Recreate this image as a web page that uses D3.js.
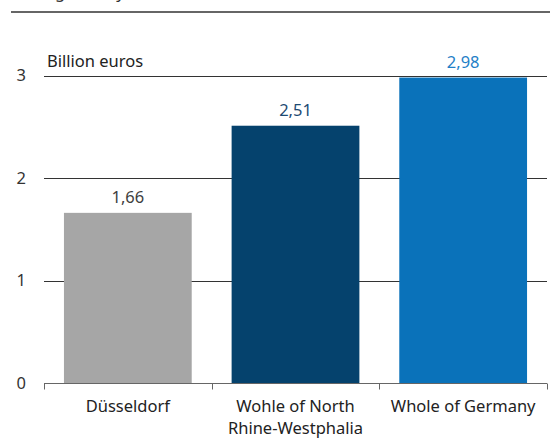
<!DOCTYPE html>
<html>
<head>
<meta charset="utf-8">
<script src="https://cdn.jsdelivr.net/npm/d3@7"></script>
<style>
  html, body { margin: 0; padding: 0; background: #fff; }
  svg { display: block; font-family: "Noto Sans", "Open Sans", sans-serif; }
</style>
</head>
<body>
<svg id="chart" width="550" height="439"></svg>
<script>
// Bar values (billion euros) per region
const categories = ["Düsseldorf", "Wohle of North\nRhine-Westphalia", "Whole of Germany"];
const values = [1.66, 2.51, 2.98];
const valueLabels = ["1,66", "2,51", "2,98"];
const barColors = ["#a6a6a6", "#05426d", "#0a72ba"];
const labelColors = ["#404040", "#1d4a72", "#1f7fc7"];
const yTicks = [0, 1, 2, 3];
const unitLabel = "Billion euros";
const titleText = "Average salary";

const svg = d3.select("#chart");
const margin = { left: 44, right: 3 };
const W = 550;
const fs = 16.5;

const x = d3.scaleBand()
  .domain(d3.range(categories.length))
  .range([margin.left, W - margin.right])
  .paddingInner(0.238)
  .paddingOuter(0.119);

const y = d3.scaleLinear()
  .domain([0, 3])
  .range([383, 75.5]);

// Title rule at the top (title text sits mostly above the visible area)
svg.append("text")
  .attr("x", 11).attr("y", -2)
  .attr("font-size", fs).attr("fill", "#333")
  .text(titleText);
svg.append("line")
  .attr("x1", 11).attr("x2", W)
  .attr("y1", 12).attr("y2", 12)
  .attr("stroke", "#333").attr("stroke-width", 1.6);

// Horizontal gridlines
svg.append("g")
  .selectAll("line")
  .data(yTicks.filter(d => d > 0))
  .join("line")
  .attr("x1", margin.left).attr("x2", W - margin.right)
  .attr("y1", d => Math.round(y(d)) + 0.5).attr("y2", d => Math.round(y(d)) + 0.5)
  .attr("stroke", "#333").attr("stroke-width", 1);

// Y tick labels
svg.append("g")
  .selectAll("text")
  .data(yTicks)
  .join("text")
  .attr("x", 26)
  .attr("y", d => y(d))
  .attr("dy", "0.35em")
  .attr("text-anchor", "end")
  .attr("font-size", fs)
  .attr("fill", "#333")
  .text(d => d);

// Unit label
svg.append("text")
  .attr("x", 47).attr("y", 67)
  .attr("font-size", fs)
  .attr("fill", "#222")
  .text(unitLabel);

// Bars
svg.append("g")
  .selectAll("rect")
  .data(values)
  .join("rect")
  .attr("x", (d, i) => x(i))
  .attr("width", x.bandwidth())
  .attr("y", d => y(d))
  .attr("height", d => y(0) - y(d))
  .attr("fill", (d, i) => barColors[i]);

// Value labels
svg.append("g")
  .selectAll("text")
  .data(values)
  .join("text")
  .attr("x", (d, i) => x(i) + x.bandwidth() / 2)
  .attr("y", d => y(d) - 10)
  .attr("text-anchor", "middle")
  .attr("font-size", fs)
  .attr("fill", (d, i) => labelColors[i])
  .text((d, i) => valueLabels[i]);

// X axis with ticks at band boundaries
const axisY = Math.round(y(0)) + 0.5;
svg.append("line")
  .attr("x1", margin.left).attr("x2", W - margin.right)
  .attr("y1", axisY).attr("y2", axisY)
  .attr("stroke", "#666").attr("stroke-width", 1);

const bandW = (W - margin.right - margin.left) / categories.length;
svg.append("g")
  .selectAll("line")
  .data(d3.range(categories.length + 1))
  .join("line")
  .attr("x1", i => Math.round(margin.left + i * bandW) + 0.5)
  .attr("x2", i => Math.round(margin.left + i * bandW) + 0.5)
  .attr("y1", axisY).attr("y2", axisY + 6)
  .attr("stroke", "#666").attr("stroke-width", 1);

// Category labels (may wrap onto two lines)
svg.append("g")
  .selectAll("text")
  .data(categories)
  .join("text")
  .attr("text-anchor", "middle")
  .attr("font-size", fs)
  .attr("fill", "#222")
  .attr("y", 412)
  .each(function(d, i) {
    const t = d3.select(this);
    d.split("\n").forEach((ln, k) => {
      t.append("tspan")
        .attr("x", x(i) + x.bandwidth() / 2)
        .attr("dy", k === 0 ? 0 : 22)
        .text(ln);
    });
  });
</script>
</body>
</html>
